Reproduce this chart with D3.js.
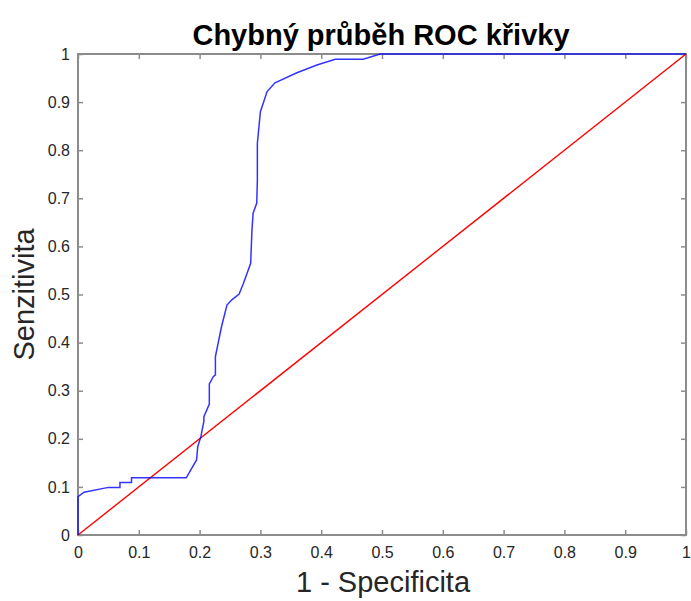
<!DOCTYPE html>
<html><head><meta charset="utf-8">
<script src="https://cdn.jsdelivr.net/npm/d3@7"></script>
<style>body{margin:0;background:#fff}svg{display:block}text{font-family:"Liberation Sans",Arial,Helvetica,sans-serif}</style>
</head><body>
<script>
const rocX = [0,0,0.01,0.05,0.069,0.069,0.088,0.088,0.178,0.195,0.197,0.202,0.207,0.207,0.216,0.216,0.2225,0.226,0.226,0.236,0.245,0.253,0.265,0.272,0.284,0.286,0.288,0.294,0.295,0.295,0.300,0.311,0.324,0.360,0.393,0.423,0.469,0.497,1];
const rocY = [0,0.08,0.089,0.099,0.099,0.109,0.109,0.119,0.119,0.156,0.184,0.204,0.236,0.246,0.272,0.314,0.329,0.333,0.371,0.433,0.478,0.489,0.501,0.523,0.565,0.631,0.669,0.690,0.738,0.814,0.880,0.922,0.940,0.961,0.977,0.989,0.989,1,1];
const diagX = [0,1];
const diagY = [0,1];
const xTicks = [0,0.1,0.2,0.3,0.4,0.5,0.6,0.7,0.8,0.9,1];
const yTicks = [0,0.1,0.2,0.3,0.4,0.5,0.6,0.7,0.8,0.9,1];
const titleText = "Chybný průběh ROC křivky";
const xLabel = "1 - Specificita";
const yLabel = "Senzitivita";

const W=691,H=601, L=78,R=686,T=54,B=535;
const svg=d3.select("body").append("svg").attr("width",W).attr("height",H);
const x=d3.scaleLinear().domain([0,1]).range([L,R]);
const y=d3.scaleLinear().domain([0,1]).range([B,T]);
const axisCol="#8c8c8c", txtCol="#262626";
const fmt=d=>d===0?"0":d===1?"1":d3.format(".1f")(d);

function styleAxis(g){g.select(".domain").remove();g.selectAll("line").attr("stroke",axisCol).attr("stroke-width",1.5);g.selectAll("text").attr("fill",txtCol).attr("font-size",16);}
svg.append("g").attr("transform",`translate(0,${B})`).call(d3.axisBottom(x).tickValues(xTicks).tickSize(-5).tickPadding(12).tickFormat(fmt)).call(styleAxis);
svg.append("g").attr("transform",`translate(0,${T})`).call(d3.axisTop(x).tickValues(xTicks).tickSize(-5).tickFormat("")).call(styleAxis);
svg.append("g").attr("transform",`translate(${L},0)`).call(d3.axisLeft(y).tickValues(yTicks).tickSize(-5).tickPadding(8).tickFormat(fmt)).call(styleAxis);
svg.append("g").attr("transform",`translate(${R},0)`).call(d3.axisRight(y).tickValues(yTicks).tickSize(-5).tickFormat("")).call(styleAxis);
svg.append("rect").attr("x",L).attr("y",T).attr("width",R-L).attr("height",B-T).attr("fill","none").attr("stroke",axisCol).attr("stroke-width",2);

const line=d3.line().x(d=>x(d[0])).y(d=>y(d[1]));
svg.append("path").datum(diagX.map((v,i)=>[v,diagY[i]])).attr("d",line).attr("fill","none").attr("stroke","#ff0000").attr("stroke-width",1.4);
svg.append("path").datum(rocX.map((v,i)=>[v,rocY[i]])).attr("d",line).attr("fill","none").attr("stroke","#0000ff").attr("stroke-opacity",0.8).attr("stroke-width",1.5);

svg.append("text").attr("x",381).attr("y",45).attr("text-anchor","middle").attr("font-weight","bold").attr("font-size",29).attr("fill","#000").text(titleText);
svg.append("text").attr("x",383).attr("y",592).attr("text-anchor","middle").attr("font-size",29).attr("fill",txtCol).text(xLabel);
svg.append("text").attr("transform",`translate(34,${(T+B)/2}) rotate(-90)`).attr("text-anchor","middle").attr("font-size",29).attr("fill",txtCol).text(yLabel);
</script>
</body></html>
